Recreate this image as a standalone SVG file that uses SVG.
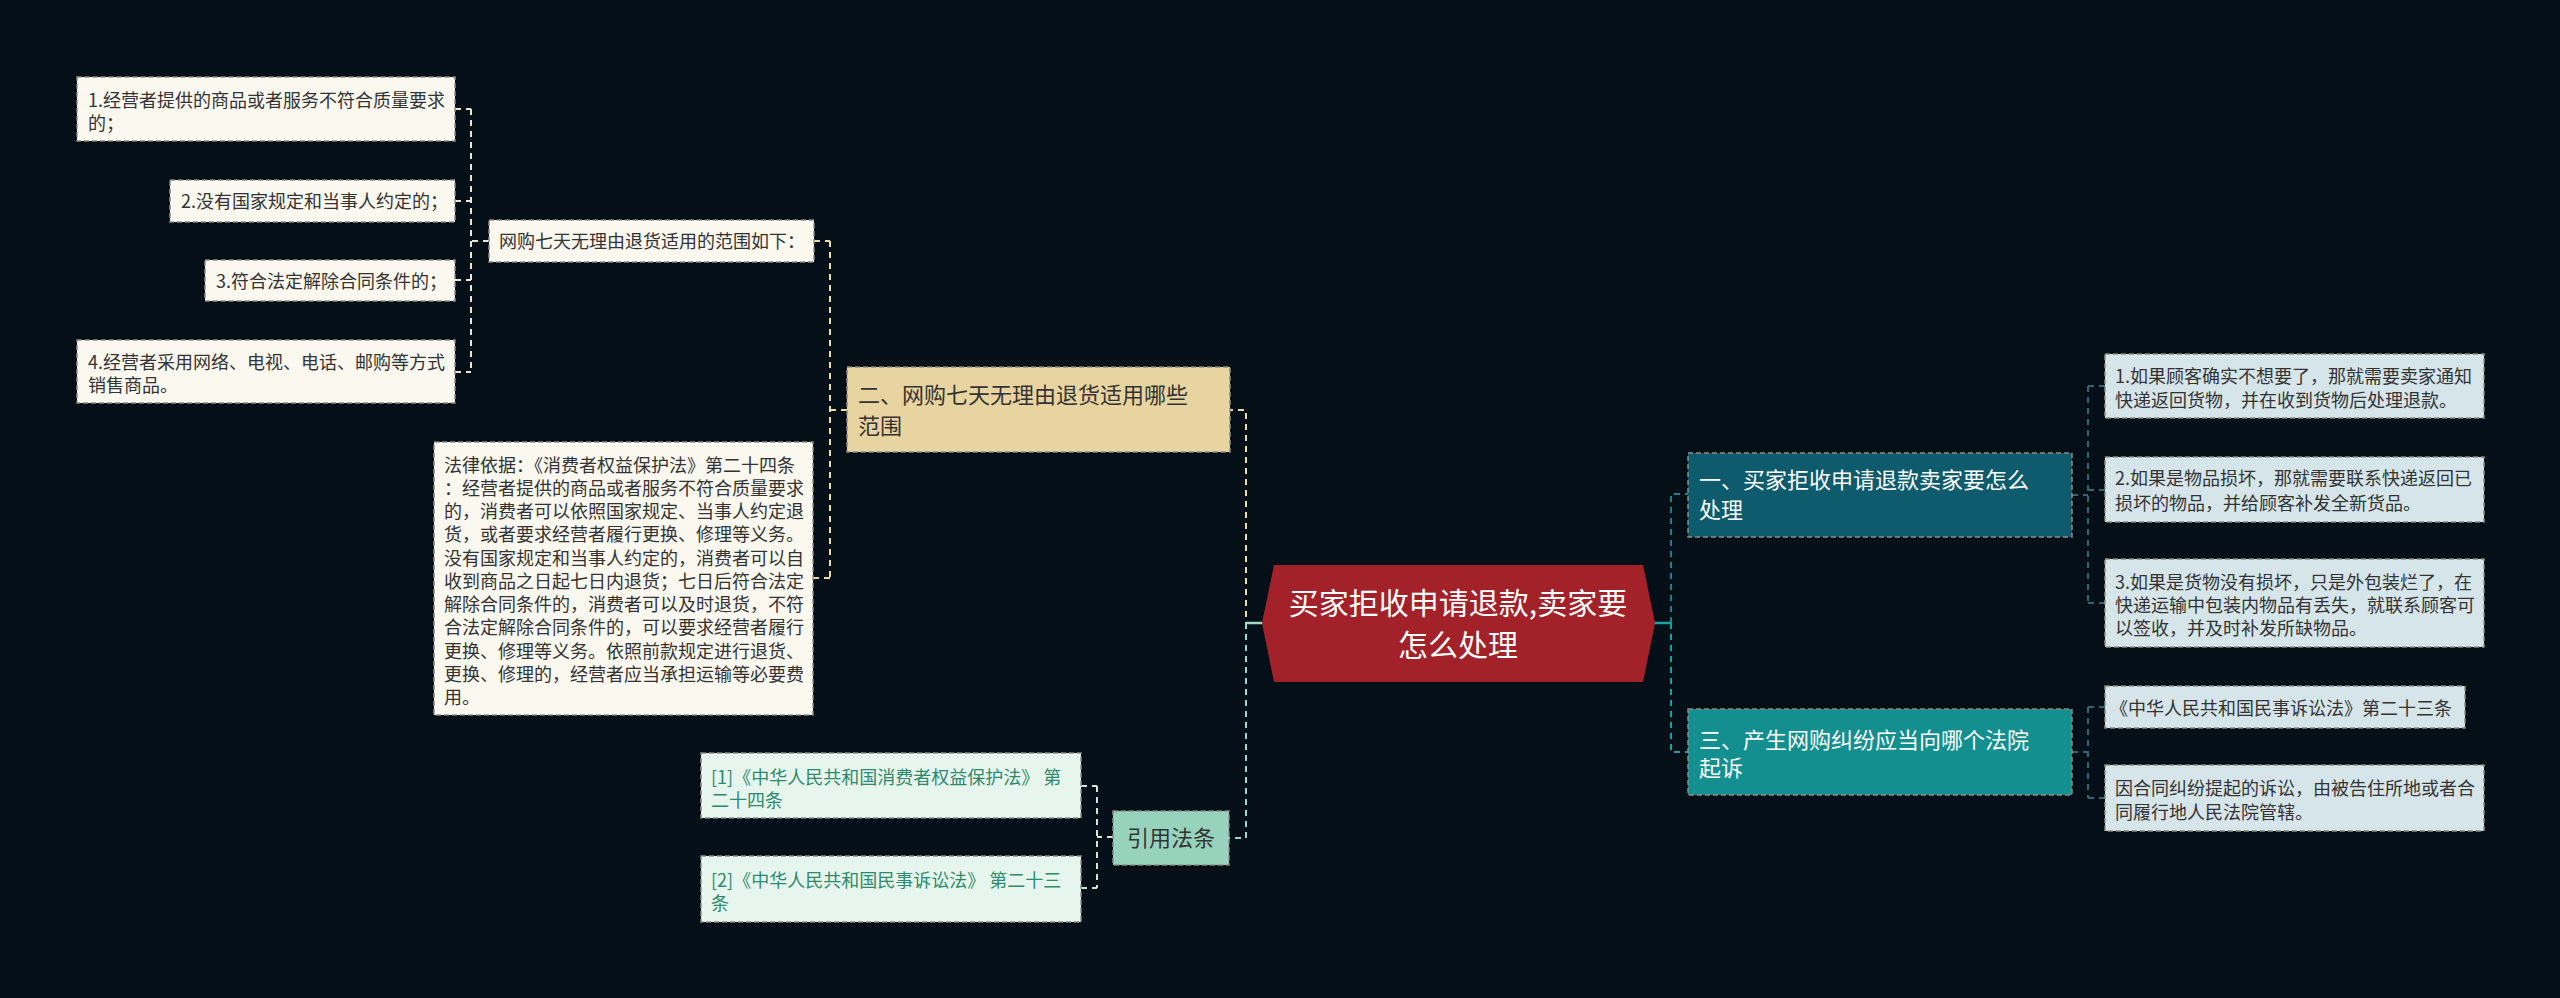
<svg xmlns="http://www.w3.org/2000/svg" width="2560" height="998" viewBox="0 0 2560 998">
<style>
text{font-family:"Noto Sans CJK SC","Liberation Sans",sans-serif;}
.leaf{font-size:18px;fill:#333333;}
.cite{font-size:18px;fill:#2e8a6a;}
.l1{font-size:22px;}
.box{stroke:#8c8c84;stroke-width:1.5;stroke-dasharray:5 3;}
.cream{fill:#fbf8ef;}
.blue{fill:#d5e5e9;}
.mint{fill:#e7f5ef;}
.con{fill:none;stroke-width:2;stroke-dasharray:6 5;}
.solid{fill:none;stroke-width:2.5;}
</style>
<rect x="0" y="0" width="2560" height="998" fill="#050f17"/>
<g id="connectors">
  <!-- left branch: 二 -->
  <path class="con" stroke="#eddcaa" d="M1262,623 H1246 V410 H1230"/>
  <path class="con" stroke="#eddcaa" d="M847,410 H830 M830,241 V578 M814,241 H830 M813,578 H830"/>
  <path class="con" stroke="#ece6d8" d="M489,241 H471 M471,109 V372 M455,109 H471 M455,201 H471 M455,280 H471 M455,372 H471"/>
  <!-- 引用法条 -->
  <path class="con" stroke="#9fd8c6" d="M1246,623 V838 H1229"/>
  <path class="con" stroke="#d5e3dc" d="M1113,837 H1097 M1097,786 V888 M1081,786 H1097 M1081,888 H1097"/>
  <!-- right branch -->
  <path class="con" stroke="#1d7f8c" d="M1671,623 V494 H1688"/>
  <path class="con" stroke="#18a0a0" d="M1671,623 V752 H1688"/>
  <path class="con" stroke="#2b6a72" d="M2072,495 H2088 M2088,386 V603 M2088,386 H2105 M2088,490 H2105 M2088,603 H2105"/>
  <path class="con" stroke="#2b6a72" d="M2072,752 H2088 M2088,707 V798 M2088,707 H2105 M2088,798 H2105"/>
  <path class="solid" stroke="#9fd8c6" d="M1246,623 H1263"/>
  <path class="solid" stroke="#1ba3a6" d="M1654,623 H1671"/>
</g>
<g id="center">
  <polygon points="1274,565 1643,565 1655,623 1643,682 1274,682 1262,623" fill="#a3222a"/>
  <text x="1458" y="614" font-size="30" fill="#ffffff" text-anchor="middle">买家拒收申请退款,卖家要</text>
  <text x="1458" y="656" font-size="30" fill="#ffffff" text-anchor="middle">怎么处理</text>
</g>
<g id="n-er">
  <rect class="box" x="847" y="367" width="383" height="85" fill="#e8d4a0"/>
  <text class="l1" x="858" y="403" fill="#333333">二、网购七天无理由退货适用哪些</text>
  <text class="l1" x="858" y="434" fill="#333333">范围</text>
</g>
<g id="n-fanwei">
  <rect class="box cream" x="489" y="220" width="325" height="42"/>
  <text class="leaf" x="499" y="248">网购七天无理由退货适用的范围如下：</text>
</g>
<g id="n-s1">
  <rect class="box cream" x="77" y="77" width="378" height="64"/>
  <text class="leaf" x="88" y="107">1.经营者提供的商品或者服务不符合质量要求</text>
  <text class="leaf" x="88" y="130">的；</text>
</g>
<g id="n-s2">
  <rect class="box cream" x="170" y="180" width="285" height="42"/>
  <text class="leaf" x="181" y="208">2.没有国家规定和当事人约定的；</text>
</g>
<g id="n-s3">
  <rect class="box cream" x="205" y="260" width="250" height="41"/>
  <text class="leaf" x="216" y="288">3.符合法定解除合同条件的；</text>
</g>
<g id="n-s4">
  <rect class="box cream" x="77" y="340" width="378" height="63"/>
  <text class="leaf" x="88" y="369">4.经营者采用网络、电视、电话、邮购等方式</text>
  <text class="leaf" x="88" y="392">销售商品。</text>
</g>
<g id="n-law">
  <rect class="box cream" x="434" y="442" width="379" height="273"/>
  <text class="leaf" x="444" y="472">法律依据：《消费者权益保护法》第二十四条</text>
  <text class="leaf" x="444" y="495">：经营者提供的商品或者服务不符合质量要求</text>
  <text class="leaf" x="444" y="518">的，消费者可以依照国家规定、当事人约定退</text>
  <text class="leaf" x="444" y="541">货，或者要求经营者履行更换、修理等义务。</text>
  <text class="leaf" x="444" y="565">没有国家规定和当事人约定的，消费者可以自</text>
  <text class="leaf" x="444" y="588">收到商品之日起七日内退货；七日后符合法定</text>
  <text class="leaf" x="444" y="611">解除合同条件的，消费者可以及时退货，不符</text>
  <text class="leaf" x="444" y="634">合法定解除合同条件的，可以要求经营者履行</text>
  <text class="leaf" x="444" y="658">更换、修理等义务。依照前款规定进行退货、</text>
  <text class="leaf" x="444" y="681">更换、修理的，经营者应当承担运输等必要费</text>
  <text class="leaf" x="444" y="704">用。</text>
</g>
<g id="n-cite">
  <rect class="box" x="1113" y="811" width="116" height="54" fill="#97d3bc"/>
  <text class="l1" x="1171" y="846" fill="#333333" text-anchor="middle">引用法条</text>
</g>
<g id="n-c1">
  <rect class="box mint" x="701" y="753" width="380" height="65"/>
  <text class="cite" x="711" y="784">[1]《中华人民共和国消费者权益保护法》 第</text>
  <text class="cite" x="711" y="807">二十四条</text>
</g>
<g id="n-c2">
  <rect class="box mint" x="701" y="856" width="380" height="66"/>
  <text class="cite" x="711" y="887">[2]《中华人民共和国民事诉讼法》 第二十三</text>
  <text class="cite" x="711" y="910">条</text>
</g>
<g id="n-yi">
  <rect class="box" x="1688" y="453" width="384" height="84" fill="#0d5b6c" stroke="#3d7f8c"/>
  <text class="l1" x="1699" y="488" fill="#ffffff">一、买家拒收申请退款卖家要怎么</text>
  <text class="l1" x="1699" y="518" fill="#ffffff">处理</text>
</g>
<g id="n-san">
  <rect class="box" x="1688" y="709" width="384" height="86" fill="#138f90" stroke="#3fa7a8"/>
  <text class="l1" x="1699" y="748" fill="#ffffff">三、产生网购纠纷应当向哪个法院</text>
  <text class="l1" x="1699" y="776" fill="#ffffff">起诉</text>
</g>
<g id="n-r1">
  <rect class="box blue" x="2105" y="354" width="379" height="64"/>
  <text class="leaf" x="2115" y="383">1.如果顾客确实不想要了，那就需要卖家通知</text>
  <text class="leaf" x="2115" y="407">快递返回货物，并在收到货物后处理退款。</text>
</g>
<g id="n-r2">
  <rect class="box blue" x="2105" y="457" width="379" height="65"/>
  <text class="leaf" x="2115" y="485">2.如果是物品损坏，那就需要联系快递返回已</text>
  <text class="leaf" x="2115" y="510">损坏的物品，并给顾客补发全新货品。</text>
</g>
<g id="n-r3">
  <rect class="box blue" x="2105" y="559" width="379" height="88"/>
  <text class="leaf" x="2115" y="589">3.如果是货物没有损坏，只是外包装烂了，在</text>
  <text class="leaf" x="2115" y="612">快递运输中包装内物品有丢失，就联系顾客可</text>
  <text class="leaf" x="2115" y="635">以签收，并及时补发所缺物品。</text>
</g>
<g id="n-r4">
  <rect class="box blue" x="2105" y="686" width="360" height="42"/>
  <text class="leaf" x="2110" y="715">《中华人民共和国民事诉讼法》第二十三条</text>
</g>
<g id="n-r5">
  <rect class="box blue" x="2105" y="765" width="379" height="66"/>
  <text class="leaf" x="2115" y="795">因合同纠纷提起的诉讼，由被告住所地或者合</text>
  <text class="leaf" x="2115" y="819">同履行地人民法院管辖。</text>
</g>
</svg>
